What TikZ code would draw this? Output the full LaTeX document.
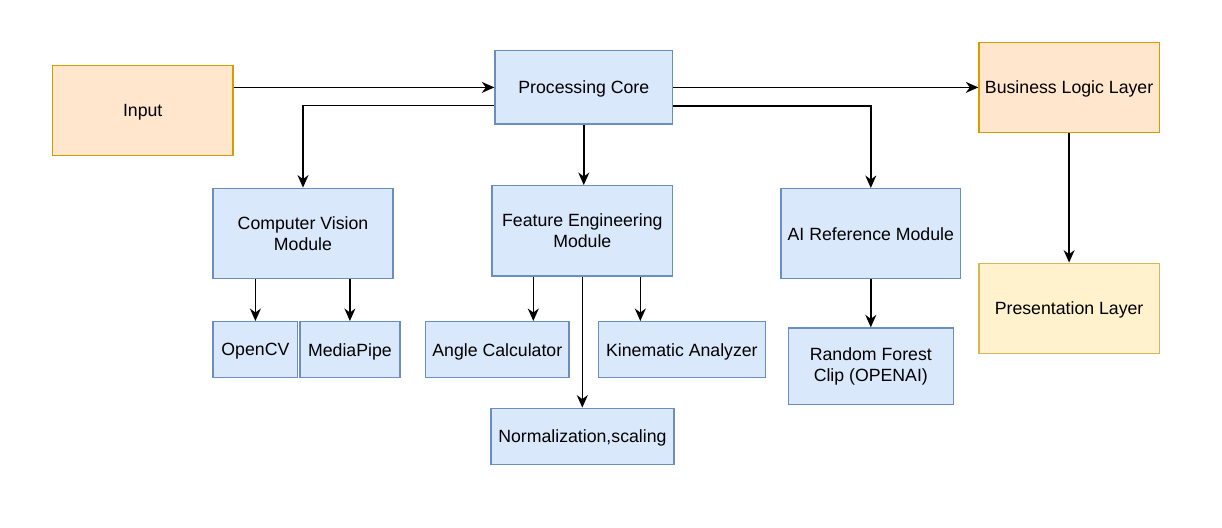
\documentclass[tikz,border=0pt]{standalone}
\usepackage{fontspec}
\setmainfont{Liberation Sans}
\usetikzlibrary{arrows.meta,calc}
\definecolor{bfill}{HTML}{DAE8FC}
\definecolor{bdraw}{HTML}{6C8EBF}
\definecolor{ofill}{HTML}{FFE6CC}
\definecolor{odraw}{HTML}{D79B00}
\definecolor{yfill}{HTML}{FFF2CC}
\definecolor{ydraw}{HTML}{D6B656}
\tikzset{
  box/.style={draw=bdraw,fill=bfill,line width=1.4pt,inner sep=0pt,align=center,
    font=\fontsize{17.7}{21.3}\selectfont},
  obox/.style={box,draw=odraw,fill=ofill},
  ybox/.style={box,draw=ydraw,fill=yfill},
  sl/.style={text depth=0pt},
  conn/.style={line width=1.4pt,-{Stealth[length=12.5pt,width=11pt,inset=4pt]}}
}
\begin{document}
\begin{tikzpicture}[x=1pt,y=-1pt]
\useasboundingbox (0,0) rectangle (1222,527);
\node[obox,sl,minimum width=180.2pt,minimum height=90.4pt] (in) at (142.7,110.5) {Input};
\node[box,sl,minimum width=177.6pt,minimum height=73.3pt] (pc) at (583.8,87.4) {Processing Core};
\node[box,minimum width=180pt,minimum height=90.4pt] (cv) at (303,233.5) {Computer Vision\\Module};
\node[box,minimum width=180.6pt,minimum height=90.3pt] (fe) at (582.3,230.9) {Feature Engineering\\Module};
\node[box,sl,minimum width=179.5pt,minimum height=90pt] (ai) at (870.8,233.7) {AI Reference Module};
\node[obox,sl,minimum width=180.2pt,minimum height=90.4pt] (bl) at (1069.1,87.5) {Business Logic Layer};
\node[ybox,sl,minimum width=180.2pt,minimum height=90.4pt] (pl) at (1069.1,308.5) {Presentation Layer};
\node[box,sl,minimum width=84.7pt,minimum height=56pt] (ocv) at (255.4,349.7) {OpenCV};
\node[box,sl,minimum width=99.9pt,minimum height=56pt] (mp) at (349.9,349.7) {MediaPipe};
\node[box,sl,minimum width=143.1pt,minimum height=56pt] (ang) at (497.3,349.7) {Angle Calculator};
\node[box,sl,minimum width=166.8pt,minimum height=56pt] (kin) at (681.9,349.7) {Kinematic Analyzer};
\node[box,sl,minimum width=183.1pt,minimum height=56pt] (nrm) at (582.4,436.3) {Normalization,scaling};
\node[box,minimum width=164.8pt,minimum height=76.7pt] (rf) at (870.8,366.4) {Random Forest\\Clip (OPENAI)};
% connectors
\draw[conn] (in.east|-pc.west) -- (pc.west);
\draw[conn] ([yshift=-18.3pt]pc.west) -| (cv.north);
\draw[conn] (pc.south) -- (pc.south|-fe.north);
\draw[conn] (pc.east) -- (pc.east-|bl.west);
\draw[conn] ([yshift=-18.6pt]pc.east) -| (ai.north);
\draw[conn] (ocv.north|-cv.south) -- (ocv.north);
\draw[conn] (mp.north|-cv.south) -- (mp.north);
\coordinate (fa) at ([xshift=-49pt]fe.south);
\coordinate (fk) at ([xshift=58pt]fe.south);
\draw[conn] (fa) -- (fa|-ang.north);
\draw[conn] (fk) -- (fk|-kin.north);
\draw[conn] (fe.south) -- (fe.south|-nrm.north);
\draw[conn] (ai.south) -- (rf.north);
\draw[conn] (bl.south) -- (pl.north);
\end{tikzpicture}
\end{document}
